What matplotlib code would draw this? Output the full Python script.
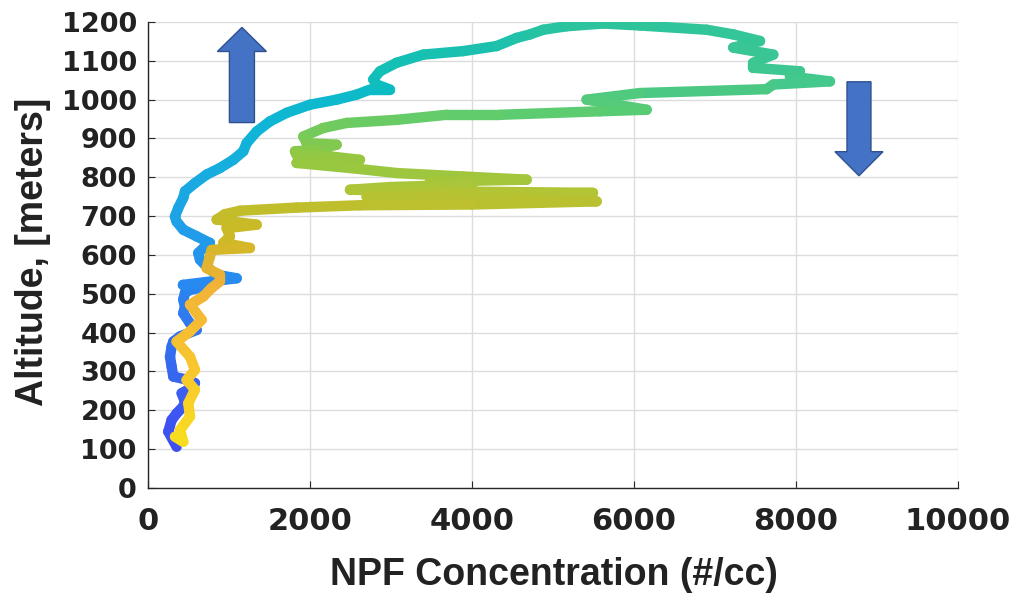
import matplotlib
matplotlib.use("Agg")
import matplotlib.pyplot as plt
import numpy as np
from matplotlib.collections import LineCollection
from matplotlib.colors import LinearSegmentedColormap
from matplotlib.patches import FancyArrow

# NPF concentration (#/cc) and altitude (m) along the flight, in time order
npf = [354, 251, 292, 354, 436, 457, 416, 560, 580, 498, 313, 292, 272, 292, 313,
       395, 601, 519, 436, 457, 436, 457, 519, 642, 432, 1095, 848, 724, 642, 621,
       704, 765, 601, 436, 354, 333, 374, 436, 457, 580, 724, 889, 1053, 1177, 1218,
       1342, 1506, 1712, 2000, 2329, 2577, 2741, 2988, 2823, 2782, 2864, 3070, 3399,
       3893, 4305, 4552, 4716, 4880, 5169, 5621, 6074, 6897, 7226, 7556, 7226, 7720,
       7473, 7473, 8049, 7926, 8420, 7720, 7638, 6074, 5415, 6156, 5580, 4346, 3687,
       3070, 2453, 2164, 1918, 1959, 2329, 2082, 1815, 1835, 2247, 2617, 1835, 2494,
       3070, 3893, 4675, 3481, 4000, 3000, 2494, 3500, 5494, 4000, 2700, 4500, 5539,
       4000, 2617, 1835, 1136, 950, 848, 1342, 971, 1012, 930, 1259, 786, 765, 724,
       889, 889, 786, 683, 519, 663, 519, 354, 519, 580, 477, 580, 498, 519, 395,
       436, 333]
alt = [106, 145, 175, 192, 210, 222, 244, 261, 270, 278, 287, 313, 338, 364, 377,
       390, 407, 424, 450, 467, 485, 502, 510, 515, 523, 540, 549, 570, 588, 605,
       622, 631, 648, 665, 686, 699, 721, 747, 764, 785, 807, 824, 845, 867, 888,
       918, 944, 966, 987, 1000, 1013, 1026, 1026, 1039, 1052, 1073, 1095, 1116,
       1125, 1138, 1159, 1168, 1180, 1189, 1196, 1191, 1180, 1168, 1151, 1134, 1116,
       1095, 1082, 1073, 1060, 1047, 1039, 1027, 1017, 1000, 974, 970, 961, 961,
       948, 940, 927, 905, 888, 884, 871, 867, 858, 854, 845, 837, 824,
       811, 802, 794, 789, 781, 775, 768, 764, 760, 755, 750, 745, 738,
       730, 728, 722, 714, 705, 691, 678, 669, 648, 631, 618, 613, 596, 566,
       549, 532, 515, 493, 472, 433, 403, 377, 338, 304, 278, 253, 218, 184, 149,
       119, 132]

x_ticks = [0, 2000, 4000, 6000, 8000, 10000]
y_ticks = list(range(0, 1201, 100))

# colours along the track (blue -> cyan -> teal -> green -> yellow)
track_cmap = LinearSegmentedColormap.from_list("track", [
    (0.00, "#4050f0"), (0.17, "#2888f0"), (0.24, "#20a0e8"), (0.32, "#10b4d8"),
    (0.37, "#0cbcc4"), (0.41, "#18c0b0"), (0.46, "#2ec49c"), (0.54, "#44c88c"),
    (0.59, "#60cc6c"), (0.66, "#90c844"), (0.76, "#b4c434"), (0.82, "#c4bc2a"),
    (0.86, "#d0b826"), (0.90, "#f0b038"), (0.95, "#f8c430"), (1.00, "#f8dc20")])

fig = plt.figure(figsize=(10.12, 5.94), dpi=100)
ax = fig.add_axes([0.1462, 0.1785, 0.8004, 0.7845])

pts = np.column_stack([npf, alt])
segs = np.stack([pts[:-1], pts[1:]], axis=1)
t = np.arange(len(segs)) / (len(segs) - 1)
lc = LineCollection(segs, colors=track_cmap(t), linewidths=7.5, capstyle="round",
                    joinstyle="round", zorder=3)
ax.add_collection(lc)

# up / down arrows
ax.add_patch(FancyArrow(1160, 941, 0, 245, width=309, head_width=605, head_length=62,
                        length_includes_head=True, fc="#4472c4", ec="#2f528f", lw=1,
                        clip_on=False, zorder=5))
ax.add_patch(FancyArrow(8778, 1046, 0, -242, width=296, head_width=593, head_length=62,
                        length_includes_head=True, fc="#4472c4", ec="#2f528f", lw=1,
                        clip_on=False, zorder=5))

ax.set_xlim(0, 10000)
ax.set_ylim(0, 1200)
ax.set_xticks(x_ticks)
ax.set_yticks(y_ticks)
ax.grid(True, color="#dcdcdc", lw=1)
ax.set_axisbelow(True)
for s in ["top", "right"]:
    ax.spines[s].set_visible(False)
for s in ["left", "bottom"]:
    ax.spines[s].set_color("#262626")
    ax.spines[s].set_linewidth(1)

ax.tick_params(axis="both", direction="in", length=5, color="#262626")
ax.tick_params(axis="y", pad=8)
ax.tick_params(axis="x", pad=14)
for lab in ax.get_yticklabels():
    lab.set_fontfamily("DejaVu Sans")
    lab.set_fontweight("bold")
    lab.set_fontsize(19.5)
    lab.set_color("#222222")
for lab in ax.get_xticklabels():
    lab.set_fontfamily("DejaVu Sans")
    lab.set_fontweight("bold")
    lab.set_fontsize(22)
    lab.set_color("#222222")

ax.set_xlabel("NPF Concentration (#/cc)", fontfamily="Liberation Sans",
              fontweight="bold", fontsize=27, color="#222222")
ax.set_ylabel("Altitude, [meters]", fontfamily="Liberation Sans",
              fontweight="bold", fontsize=27, color="#222222")
ax.xaxis.set_label_coords(0.501, -0.148)
ax.yaxis.set_label_coords(-0.12, 0.506)

fig.savefig("out.png", dpi=100)
